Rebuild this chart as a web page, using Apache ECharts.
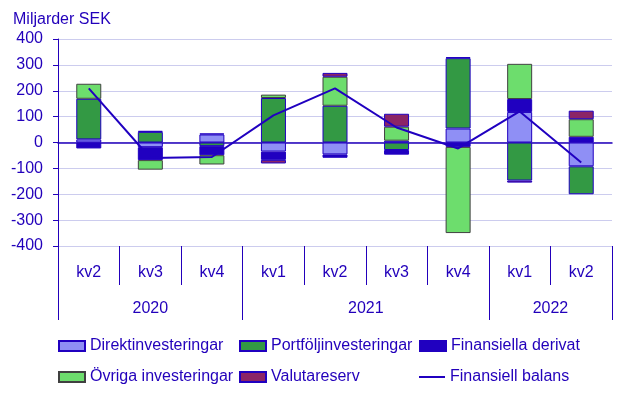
<!DOCTYPE html>
<html>
<head>
<meta charset="utf-8">
<script src="https://cdn.jsdelivr.net/npm/echarts@6/dist/echarts.min.js"></script>
<style>
  html, body { margin: 0; padding: 0; background: #fff; }
  #chart { width: 629px; height: 398px; }
</style>
</head>
<body>
<div id="chart"></div>
<script>
var quarters = ['kv2', 'kv3', 'kv4', 'kv1', 'kv2', 'kv3', 'kv4', 'kv1', 'kv2'];
var years = ['2020', '2021', '2022'];
var yearBounds = [0, 3, 7, 9];     // separators, in quarter units
var yearCenters = [1.5, 5, 8];

var direkt   = [12, -18, 31, -35, -46, 7, 54, 118, -92];
var portfolj = [157, 41, -14, 172, 142, -29, 272, -147, -108];
var derivat  = [-23, -50, -35, -32, -13, -18, -17, 50, 22];
var ovriga   = [58, -37, -36, 13, 112, 54, -333, 136, 68];
var valuta   = [null, 4, 4, -14, 15, 50, 4, -8, 33];
var balans   = [209, -60, -56, 105, 209, 58, -23, 120, -77];

var ink = '#2200bb';
var font = 'Liberation Sans, Arial, sans-serif';
var fs = 16;

function bar(name, data, color, border) {
    return {
        name: name,
        type: 'bar',
        stack: 'total',
        barWidth: 25,
        data: data,
        itemStyle: { color: color, borderColor: border, borderWidth: 1 }
    };
}

function legendCol(left, top, names, h) {
    return {
        orient: 'vertical',
        left: left,
        top: top,
        padding: 0,
        icon: 'rect',
        itemWidth: 26,
        itemHeight: h || 10,
        itemGap: 13,
        itemTextGap: 3,
        data: names,
        textStyle: { color: ink, fontSize: fs, fontFamily: font, lineHeight: 18 }
    };
}

var myChart = echarts.init(document.getElementById('chart'));
myChart.setOption({
    animation: false,
    textStyle: { fontFamily: font },
    title: {
        text: 'Miljarder SEK',
        left: 8,
        top: 7,
        textStyle: { color: ink, fontSize: fs, fontWeight: 'normal', fontFamily: font }
    },
    legend: [
        legendCol(58, 337, ['Direktinvesteringar', 'Övriga investeringar']),
        legendCol(239, 337, ['Portföljinvesteringar', 'Valutareserv']),
        legendCol(419, 337, ['Finansiella derivat']),
        legendCol(419, 368, ['Finansiell balans'], 2)
    ],
    grid: { left: 58, right: 17, top: 39, bottom: 152 },
    yAxis: {
        type: 'value',
        min: -400,
        max: 400,
        interval: 100,
        axisLine: { show: true, lineStyle: { color: ink, width: 1 } },
        axisTick: { show: true, length: 5, lineStyle: { color: ink } },
        axisLabel: { color: ink, fontSize: fs, margin: 15, fontFamily: font },
        splitLine: { lineStyle: { color: '#ccccee', width: 1 } }
    },
    xAxis: [
        {   // zero line with short ticks
            type: 'category',
            data: quarters,
            axisLine: { onZero: true, lineStyle: { color: ink, width: 1.5 } },
            axisTick: { length: 5, lineStyle: { color: ink } },
            axisLabel: { show: false }
        },
        {   // quarter labels at the bottom
            type: 'category',
            data: quarters,
            position: 'bottom',
            axisLine: { show: false, onZero: false },
            axisTick: { show: true, length: 39, interval: 0, lineStyle: { color: ink } },
            axisLabel: { color: ink, fontSize: fs, margin: 19, interval: 0, fontFamily: font }
        },
        {   // year labels
            type: 'value',
            min: 0,
            max: 9,
            position: 'bottom',
            axisLine: { show: false, onZero: false },
            splitLine: { show: false },
            axisTick: { show: true, length: 74, customValues: yearBounds, lineStyle: { color: ink } },
            axisLabel: {
                color: ink, fontSize: fs, margin: 55, fontFamily: font,
                customValues: yearCenters,
                formatter: function (v) {
                    return years[yearCenters.indexOf(v)];
                }
            }
        }
    ],
    series: [
        bar('Direktinvesteringar', direkt, '#8f8ff5', '#2000c0'),
        bar('Portföljinvesteringar', portfolj, '#339944', '#2000c0'),
        bar('Finansiella derivat', derivat, '#2000c0', '#2000c0'),
        bar('Övriga investeringar', ovriga, '#6ddd6d', '#404040'),
        bar('Valutareserv', valuta, '#8b2566', '#2000c0'),
        {
            name: 'Finansiell balans',
            type: 'line',
            data: balans,
            symbol: 'none',
            z: 5,
            lineStyle: { color: '#2000c0', width: 2 },
            itemStyle: { color: '#2000c0' }
        }
    ]
});
</script>
</body>
</html>
